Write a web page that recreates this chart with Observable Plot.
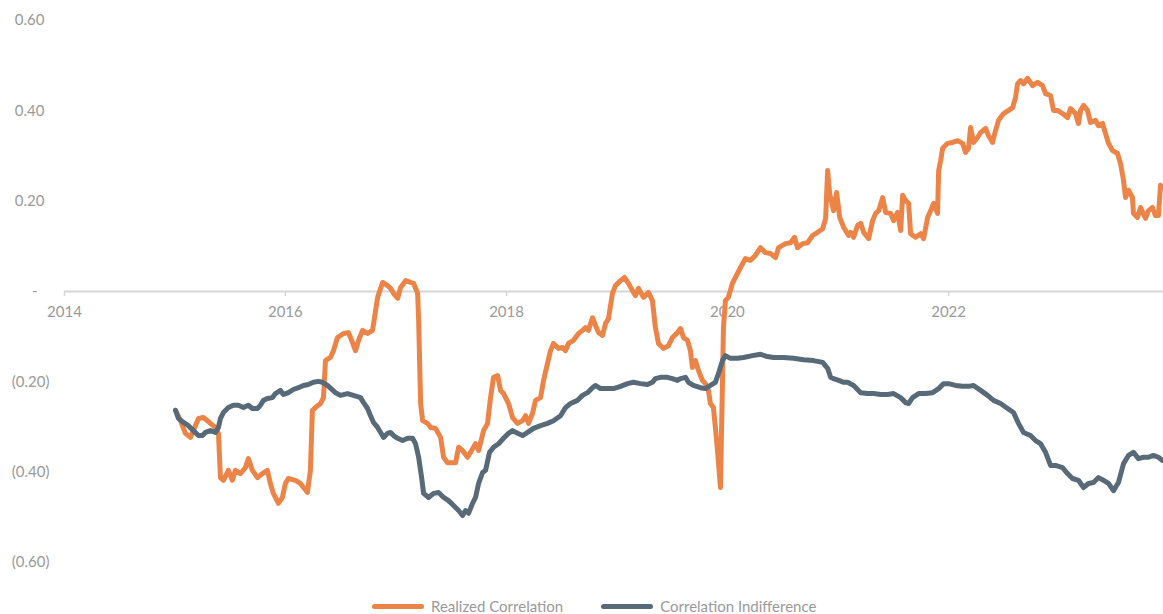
<!DOCTYPE html>
<html>
<head>
<meta charset="utf-8">
<script src="https://cdn.jsdelivr.net/npm/d3@7"></script>
<script src="https://cdn.jsdelivr.net/npm/@observablehq/plot@0.6"></script>
<style>
  html, body { margin: 0; padding: 0; background: #fff; }
  #chart svg { display: block; }
  .legend { display: flex; align-items: center; height: 16px; margin-left: 372px; font-family: Lato, "Open Sans", sans-serif; font-size: 15px; color: #999; }
  .legend .sw { width: 52px; height: 5px; border-radius: 3px; margin-right: 7px; }
  .legend .item { display: flex; align-items: center; margin-right: 38px; }
</style>
</head>
<body>
<div id="chart"></div>
<div class="legend">
  <div class="item"><div class="sw" style="background:#ED8447"></div><span>Realized Correlation</span></div>
  <div class="item"><div class="sw" style="background:#586A77"></div><span>Correlation Indifference</span></div>
</div>
<script>
// Series names
const seriesNames = ["Realized Correlation", "Correlation Indifference"];

// Realized Correlation (decimal year, value)
const realizedT = [2015.005,2015.050,2015.095,2015.140,2015.167,2015.213,2015.258,2015.294,2015.321,2015.367,2015.394,2015.412,2015.439,2015.484,2015.520,2015.548,2015.593,2015.638,2015.665,2015.701,2015.747,2015.792,2015.837,2015.864,2015.891,2015.937,2015.973,2016.000,2016.027,2016.090,2016.136,2016.199,2016.226,2016.244,2016.271,2016.317,2016.344,2016.362,2016.407,2016.434,2016.471,2016.525,2016.570,2016.606,2016.633,2016.661,2016.697,2016.742,2016.787,2016.805,2016.833,2016.878,2016.923,2016.950,2016.977,2017.014,2017.041,2017.086,2017.131,2017.158,2017.195,2017.204,2017.222,2017.240,2017.285,2017.312,2017.357,2017.403,2017.430,2017.466,2017.511,2017.538,2017.566,2017.602,2017.647,2017.674,2017.719,2017.747,2017.792,2017.828,2017.855,2017.882,2017.919,2017.946,2017.973,2018.018,2018.054,2018.100,2018.145,2018.172,2018.199,2018.235,2018.262,2018.308,2018.335,2018.371,2018.398,2018.425,2018.471,2018.507,2018.534,2018.561,2018.606,2018.652,2018.688,2018.715,2018.742,2018.778,2018.805,2018.833,2018.869,2018.896,2018.923,2018.959,2018.986,2019.032,2019.068,2019.104,2019.140,2019.167,2019.195,2019.240,2019.285,2019.321,2019.348,2019.376,2019.421,2019.466,2019.502,2019.548,2019.575,2019.602,2019.638,2019.665,2019.683,2019.710,2019.738,2019.774,2019.801,2019.828,2019.846,2019.873,2019.891,2019.910,2019.937,2019.955,2019.964,2019.982,2020.009,2020.045,2020.072,2020.118,2020.163,2020.208,2020.253,2020.299,2020.344,2020.389,2020.434,2020.462,2020.525,2020.570,2020.606,2020.633,2020.679,2020.724,2020.769,2020.814,2020.860,2020.887,2020.905,2020.923,2020.959,2020.986,2021.014,2021.050,2021.095,2021.113,2021.140,2021.176,2021.204,2021.231,2021.276,2021.312,2021.339,2021.367,2021.403,2021.430,2021.475,2021.502,2021.538,2021.566,2021.584,2021.611,2021.638,2021.656,2021.701,2021.747,2021.774,2021.810,2021.837,2021.864,2021.900,2021.910,2021.928,2021.946,2021.991,2022.036,2022.081,2022.127,2022.154,2022.181,2022.199,2022.226,2022.262,2022.290,2022.335,2022.362,2022.398,2022.425,2022.452,2022.498,2022.543,2022.579,2022.606,2022.624,2022.652,2022.679,2022.715,2022.760,2022.805,2022.851,2022.878,2022.923,2022.950,2022.986,2023.032,2023.077,2023.104,2023.149,2023.176,2023.195,2023.222,2023.258,2023.285,2023.330,2023.357,2023.394,2023.421,2023.448,2023.484,2023.529,2023.557,2023.584,2023.602,2023.629,2023.665,2023.674,2023.710,2023.738,2023.783,2023.810,2023.846,2023.873,2023.900,2023.919,2023.940];
const realizedV = [-0.263,-0.286,-0.314,-0.323,-0.308,-0.281,-0.279,-0.286,-0.292,-0.301,-0.314,-0.412,-0.418,-0.396,-0.418,-0.396,-0.403,-0.390,-0.370,-0.396,-0.412,-0.403,-0.396,-0.425,-0.447,-0.469,-0.456,-0.425,-0.414,-0.418,-0.425,-0.445,-0.396,-0.263,-0.257,-0.248,-0.235,-0.153,-0.146,-0.131,-0.102,
-0.093,-0.091,-0.113,-0.131,-0.108,-0.086,-0.093,-0.086,-0.058,-0.013,0.020,0.013,0.007,-0.004,-0.015,0.009,0.024,0.020,0.018,-0.004,-0.064,-0.248,-0.286,-0.292,-0.301,-0.303,-0.323,-0.367,-0.379,-0.379,-0.379,-0.345,-0.352,-0.367,-0.356,-0.337,-0.352,-0.308,-0.292,-0.235,-0.190,-0.186,-0.219,
-0.226,-0.248,-0.279,-0.292,-0.286,-0.275,-0.292,-0.270,-0.241,-0.235,-0.197,-0.159,-0.131,-0.115,-0.126,-0.124,-0.131,-0.115,-0.108,-0.093,-0.086,-0.080,-0.086,-0.058,-0.075,-0.091,-0.097,-0.071,-0.060,-0.004,0.013,0.024,0.031,0.018,0.002,-0.009,0.007,-0.013,-0.002,-0.020,-0.080,-0.115,-0.126,-0.120,-0.102,-0.091,-0.082,
-0.102,-0.108,-0.131,-0.168,-0.153,-0.175,-0.197,-0.204,-0.219,-0.248,-0.257,-0.301,-0.352,-0.434,-0.204,-0.080,-0.020,-0.013,0.018,0.031,0.053,0.073,0.069,0.080,0.097,0.086,0.084,0.075,0.097,0.106,0.108,0.120,0.097,0.106,0.108,0.124,0.131,0.139,0.162,0.268,0.217,0.179,0.219,0.164,0.142,0.124,
0.131,0.120,0.146,0.151,0.131,0.117,0.157,0.173,0.179,0.208,0.175,0.173,0.157,0.175,0.135,0.213,0.201,0.195,0.128,0.120,0.128,0.117,0.164,0.179,0.195,0.173,0.268,0.290,0.317,0.328,0.330,0.334,0.328,0.308,0.317,0.363,0.330,0.341,0.352,0.361,0.345,0.330,0.356,0.379,0.394,
0.401,0.407,0.429,0.460,0.467,0.460,0.472,0.456,0.463,0.456,0.438,0.434,0.401,0.401,0.394,0.385,0.405,0.394,0.372,0.401,0.412,0.401,0.374,0.379,0.367,0.372,0.350,0.328,0.312,0.306,0.283,0.246,0.208,0.224,0.208,0.173,0.164,0.186,0.162,0.179,0.186,0.168,0.168,0.235,0.230];

// Correlation Indifference (decimal year, value)
const indiffT = [2015.005,2015.032,2015.077,2015.122,2015.167,2015.213,2015.249,2015.276,2015.321,2015.367,2015.394,2015.412,2015.439,2015.484,2015.529,2015.575,2015.620,2015.665,2015.701,2015.747,2015.774,2015.801,2015.837,2015.882,2015.910,2015.955,2015.982,2016.027,2016.072,2016.118,2016.163,2016.208,2016.253,2016.299,2016.335,2016.380,2016.452,2016.498,2016.561,2016.615,2016.679,2016.706,2016.742,2016.769,2016.796,2016.833,2016.860,2016.887,2016.923,2016.950,2016.977,2017.014,2017.059,2017.104,2017.149,2017.176,2017.204,2017.231,2017.249,2017.294,2017.339,2017.385,2017.430,2017.475,2017.520,2017.566,2017.602,2017.629,2017.656,2017.692,2017.719,2017.747,2017.783,2017.810,2017.846,2017.882,2017.928,2017.973,2018.018,2018.054,2018.100,2018.145,2018.190,2018.244,2018.308,2018.371,2018.425,2018.489,2018.534,2018.579,2018.643,2018.688,2018.733,2018.778,2018.805,2018.851,2018.914,2018.968,2019.032,2019.095,2019.149,2019.213,2019.276,2019.321,2019.348,2019.394,2019.457,2019.502,2019.548,2019.575,2019.620,2019.647,2019.692,2019.756,2019.801,2019.846,2019.891,2019.919,2019.955,2019.982,2020.027,2020.090,2020.145,2020.226,2020.299,2020.362,2020.416,2020.507,2020.597,2020.688,2020.778,2020.860,2020.905,2020.932,2020.959,2021.005,2021.050,2021.086,2021.140,2021.204,2021.267,2021.321,2021.385,2021.448,2021.502,2021.566,2021.611,2021.638,2021.674,2021.729,2021.792,2021.855,2021.910,2021.955,2022.000,2022.063,2022.127,2022.181,2022.226,2022.290,2022.353,2022.407,2022.471,2022.534,2022.588,2022.633,2022.679,2022.742,2022.787,2022.833,2022.878,2022.923,2022.968,2023.032,2023.077,2023.122,2023.176,2023.222,2023.267,2023.312,2023.357,2023.403,2023.448,2023.493,2023.538,2023.584,2023.629,2023.674,2023.719,2023.765,2023.810,2023.855,2023.900,2023.937];
const indiffV = [-0.263,-0.281,-0.290,-0.297,-0.308,-0.319,-0.319,-0.312,-0.308,-0.312,
-0.301,-0.281,-0.268,-0.257,-0.252,-0.252,-0.257,-0.252,-0.259,-0.259,
-0.252,-0.241,-0.237,-0.235,-0.226,-0.219,-0.228,-0.224,-0.217,-0.213,
-0.208,-0.206,-0.201,-0.199,-0.201,-0.208,
-0.224,-0.230,-0.226,-0.230,-0.235,-0.246,-0.259,-0.275,-0.290,-0.301,
-0.312,-0.323,-0.314,-0.312,-0.319,-0.325,-0.330,-0.325,-0.325,-0.337,
-0.367,-0.412,-0.447,-0.456,-0.447,-0.445,-0.456,-0.463,-0.474,-0.485,
-0.496,-0.485,-0.491,-0.469,-0.456,-0.425,-0.401,-0.396,-0.356,-0.345,
-0.337,-0.325,
-0.314,-0.308,-0.314,-0.319,-0.312,-0.303,-0.297,-0.292,-0.286,-0.275,
-0.257,-0.248,-0.241,-0.230,-0.224,-0.213,-0.208,-0.215,-0.215,-0.215,
-0.210,-0.204,-0.201,-0.204,-0.206,-0.201,-0.193,-0.190,-0.190,-0.193,
-0.197,-0.193,-0.190,-0.201,-0.208,-0.213,-0.215,-0.208,-0.201,-0.182,
-0.153,-0.142,
-0.148,-0.148,-0.146,-0.142,-0.139,-0.144,-0.146,-0.146,-0.148,-0.151,
-0.153,-0.157,-0.170,-0.190,-0.193,
-0.197,-0.201,-0.201,-0.208,-0.224,-0.226,-0.226,-0.228,-0.228,-0.226,
-0.235,-0.246,-0.248,-0.235,-0.226,-0.226,-0.224,-0.215,-0.204,
-0.204,-0.208,-0.210,-0.210,-0.208,-0.219,-0.230,-0.241,-0.248,-0.259,
-0.268,-0.292,-0.312,-0.319,-0.330,-0.337,-0.356,-0.385,-0.385,
-0.390,-0.403,-0.414,-0.418,-0.434,-0.425,-0.423,-0.412,-0.418,-0.425,
-0.441,-0.423,-0.381,-0.363,-0.356,-0.370,-0.367,-0.367,-0.363,-0.367,
-0.374];

// Axis tick values and labels
const xTickYears = [2014, 2016, 2018, 2020, 2022];
const yTicksPos = [0.6, 0.4, 0.2];
const yTicksNeg = [-0.2, -0.4, -0.6];
const yLabel = v => v === 0 ? "-" : v > 0 ? v.toFixed(2) : "(" + Math.abs(v).toFixed(2) + ")";

const toDate = t => {
  const y = Math.floor(t);
  const a = Date.UTC(y, 0, 1), b = Date.UTC(y + 1, 0, 1);
  return new Date(a + (t - y) * (b - a));
};
const pairs = (T, V) => T.slice(0, Math.min(T.length, V.length)).map((t, i) => ({date: toDate(t), value: V[i]}));
const realized = pairs(realizedT, realizedV);
const indiff = pairs(indiffT, indiffV);

const labelColor = "#999";
const fs = 15;
const chart = Plot.plot({
  width: 1163,
  height: 598,
  marginLeft: 64,
  marginRight: 0,
  marginTop: 20,
  marginBottom: 36,
  style: {fontFamily: "Lato, 'Open Sans', sans-serif", fontSize: fs + "px", background: "#fff"},
  x: {type: "utc", domain: [toDate(2014), toDate(2023.946)], axis: null},
  y: {domain: [-0.6, 0.6], axis: null},
  marks: [
    Plot.ruleY([0], {stroke: "#d6d6d6", strokeWidth: 2}),
    Plot.ruleX(xTickYears, {x: d => toDate(d), y1: () => 0, y2: () => -0.011, stroke: "#d6d6d6", strokeWidth: 1.5}),
    Plot.text(xTickYears, {x: d => toDate(d), y: () => 0, dy: 21, text: d => String(d), fill: labelColor, fontSize: fs}),
    Plot.text(yTicksPos, {y: d => d, frameAnchor: "left", textAnchor: "end", dx: -20, text: yLabel, fill: labelColor, fontSize: fs}),
    Plot.text(yTicksNeg, {y: d => d, frameAnchor: "left", textAnchor: "end", dx: -15, text: yLabel, fill: labelColor, fontSize: fs}),
    Plot.text([0], {y: d => d, frameAnchor: "left", textAnchor: "end", dx: -27, text: yLabel, fill: labelColor, fontSize: fs}),
    Plot.line(realized, {x: "date", y: "value", stroke: "#ED8447", strokeWidth: 5, strokeLinejoin: "round", strokeLinecap: "round"}),
    Plot.line(indiff, {x: "date", y: "value", stroke: "#586A77", strokeWidth: 5, strokeLinejoin: "round", strokeLinecap: "round"})
  ]
});
document.getElementById("chart").appendChild(chart);
</script>
</body>
</html>
